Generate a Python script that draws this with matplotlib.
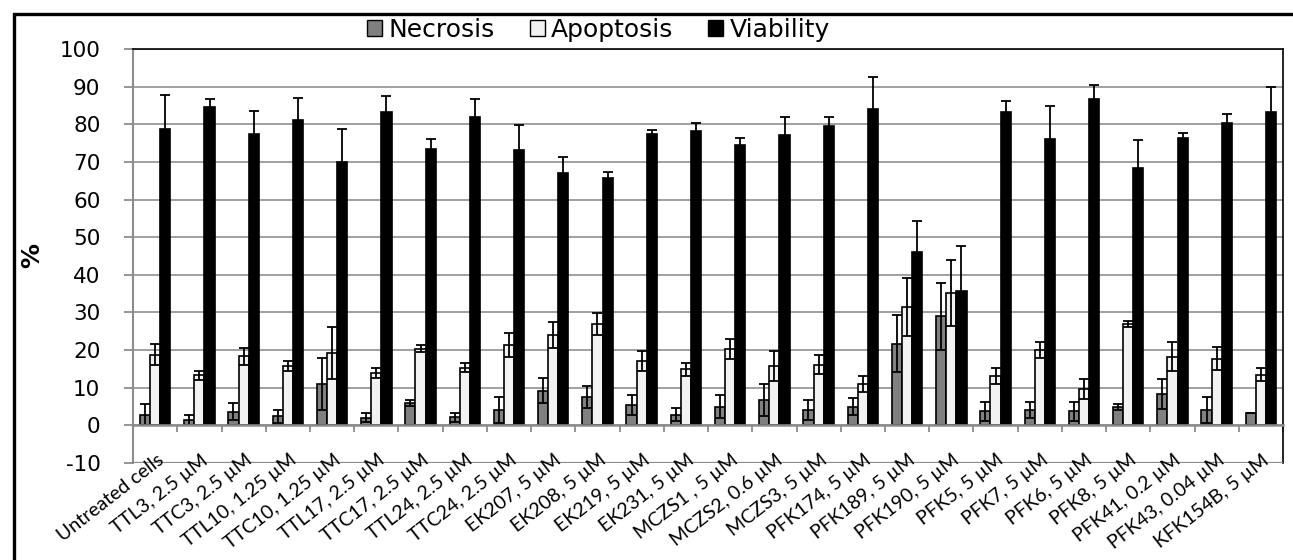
import matplotlib
matplotlib.use("Agg")
import matplotlib.pyplot as plt
from matplotlib.patches import Patch, Rectangle
import numpy as np

plt.rcParams["axes.unicode_minus"] = False

# values (%)
samples = ["Untreated cells", "TTL3, 2.5 µM", "TTC3, 2.5 µM", "TTL10, 1.25 µM",
           "TTC10, 1.25 µM", "TTL17, 2.5 µM", "TTC17, 2.5 µM", "TTL24, 2.5 µM",
           "TTC24, 2.5 µM", "EK207, 5 µM", "EK208, 5 µM", "EK219, 5 µM",
           "EK231, 5 µM", "MCZS1 , 5 µM", "MCZS2, 0.6 µM", "MCZS3, 5 µM",
           "PFK174, 5 µM", "PFK189, 5 µM", "PFK190, 5 µM", "PFK5, 5 µM",
           "PFK7, 5 µM", "PFK6, 5 µM", "PFK8, 5 µM", "PFK41, 0.2 µM",
           "PFK43, 0.04 µM", "KFK154B, 5 µM"]

necrosis = [2.7, 1.4, 3.6, 2.3, 10.9, 2.0, 5.9, 2.1, 4.0, 9.2, 7.5, 5.4, 2.8,
            4.9, 6.7, 4.0, 4.9, 21.7, 28.9, 3.7, 4.0, 3.7, 4.9, 8.3, 4.0, 3.1]
necrosis_err = [2.8, 1.4, 2.2, 1.7, 6.9, 1.1, 0.8, 1.2, 3.4, 3.4, 3.0, 2.6, 1.7,
                3.0, 4.2, 2.7, 2.2, 7.6, 9.0, 2.5, 2.2, 2.5, 0.8, 3.9, 3.4, 0.0]

apoptosis = [18.7, 13.3, 18.3, 15.7, 19.1, 13.9, 20.3, 15.3, 21.3, 23.9, 26.9,
             17.0, 14.8, 20.3, 15.7, 16.1, 10.9, 31.5, 35.2, 13.1, 20.0, 9.6,
             26.9, 18.2, 17.7, 13.4]
apoptosis_err = [2.8, 1.2, 2.2, 1.4, 6.9, 1.4, 0.9, 1.3, 3.1, 3.4, 3.0, 2.6,
                 1.8, 2.7, 3.9, 2.5, 2.2, 7.7, 8.7, 2.1, 2.1, 2.6, 0.9, 3.9,
                 3.1, 1.8]

viability = [78.7, 84.6, 77.4, 81.2, 70.1, 83.3, 73.5, 82.0, 73.1, 67.0, 65.7,
             77.4, 78.2, 74.4, 77.3, 79.6, 84.2, 46.0, 35.8, 83.3, 76.0, 86.7,
             68.4, 76.5, 80.3, 83.3]
viability_err = [9.1, 2.1, 6.2, 5.8, 8.8, 4.2, 2.5, 4.7, 6.7, 4.4, 1.6, 1.2,
                 2.1, 2.0, 4.6, 2.4, 8.5, 8.4, 11.8, 2.9, 8.9, 3.7, 7.5, 1.2,
                 2.5, 6.7]

fig = plt.figure(figsize=(12.93, 5.60), dpi=100)
ax = fig.add_axes([0.1029, 0.1738, 0.8894, 0.7382])

x = np.arange(len(samples))
w = 0.23
ebar = dict(ecolor="black", elinewidth=1.3, capsize=3.3, capthick=1.3)

ax.bar(x - w, necrosis, w, yerr=necrosis_err, color="#808080",
       edgecolor="black", linewidth=1.2, error_kw=ebar, label="Necrosis")
ax.bar(x, apoptosis, w, yerr=apoptosis_err, color="#f2f2f2",
       edgecolor="black", linewidth=1.2, error_kw=ebar, label="Apoptosis")
ax.bar(x + w, viability, w, yerr=viability_err, color="black",
       edgecolor="black", linewidth=1.2, error_kw=ebar, label="Viability")

ax.set_xlim(-0.5, len(samples) - 0.5)
ax.set_ylim(-10, 100)
ax.set_yticks(np.arange(-10, 101, 10))
ax.set_axisbelow(True)
ax.yaxis.grid(True, color="#a0a0a0", linewidth=1.4)

# category axis sits at zero, ticks at the category boundaries
ax.spines["bottom"].set_position(("data", 0))
ax.spines["bottom"].set_color("#8c8c8c")
ax.spines["bottom"].set_linewidth(1.8)
ax.spines["bottom"].set_zorder(3)
ax.set_xticks(np.arange(-0.5, len(samples), 1.0))
ax.set_xticklabels([])
ax.tick_params(axis="x", length=5, width=1.3, color="#8c8c8c", direction="out")

ax.spines["left"].set_color("#8c8c8c")
ax.spines["left"].set_linewidth(1.5)
ax.spines["top"].set_color("black")
ax.spines["top"].set_linewidth(1.2)
ax.spines["right"].set_color("black")
ax.spines["right"].set_linewidth(1.2)
ax.axhline(-10, color="#8c8c8c", linewidth=1.6, zorder=3)

ax.tick_params(axis="y", length=6.5, width=1.3, color="#8c8c8c", pad=17)
for t in ax.get_yticklabels():
    t.set_fontfamily("DejaVu Sans")
    t.set_fontsize(15.5)

for i, lab in enumerate(samples):
    ax.text(i + 0.02, -7.0, lab, rotation=38, rotation_mode="anchor",
            ha="right", va="top", fontsize=14, family="Lato", clip_on=False)

ax.set_ylabel("%", fontsize=18, fontweight="bold", family="DejaVu Sans")
ax.yaxis.set_label_coords(-0.077, 0.5)

handles = [Patch(facecolor="#808080", edgecolor="black", linewidth=1.0),
           Patch(facecolor="#f2f2f2", edgecolor="black", linewidth=1.0),
           Patch(facecolor="black", edgecolor="black", linewidth=1.0)]
fig.legend(handles, ["Necrosis", "Apoptosis", "Viability"], loc="center",
           bbox_to_anchor=(0.463, 0.946), ncol=3, frameon=False,
           prop={"family": "DejaVu Sans", "size": 18},
           handlelength=0.6, handleheight=0.6, handletextpad=0.25,
           columnspacing=1.4)

# outer frame (right and bottom edges fall outside the image)
fig.patches.append(Rectangle((13.5 / 1293, -0.1), 1.2, 1.1 - 14 / 560,
                             transform=fig.transFigure, fill=False,
                             edgecolor="black", linewidth=2.4))

fig.savefig("out.png", dpi=100)
